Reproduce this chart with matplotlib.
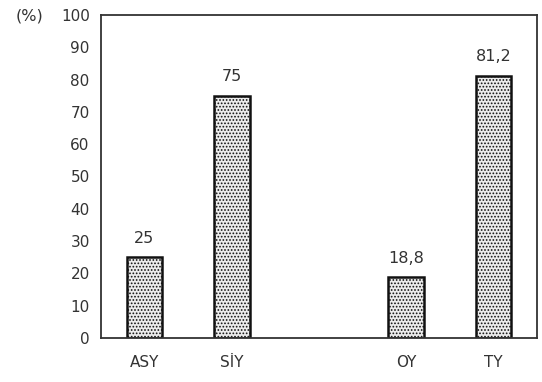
import matplotlib.pyplot as plt

# Data
categories = ['ASY', 'SİY', 'OY', 'TY']
positions = [0, 1, 3, 4]
values = [25, 75, 18.8, 81.2]
value_labels = ['25', '75', '18,8', '81,2']
yticks = [0, 10, 20, 30, 40, 50, 60, 70, 80, 90, 100]

plt.rcParams['hatch.color'] = '#9a9a9a'
plt.rcParams['hatch.linewidth'] = 0.8

fig = plt.figure(figsize=(5.42, 3.82), dpi=100)
ax = fig.add_axes([0.186, 0.115, 0.805, 0.846])

bars = ax.bar(positions, values, width=0.41, color='#ececec', edgecolor='#111111',
              linewidth=1.8, hatch='.....')

for x, v, lab in zip(positions, values, value_labels):
    ax.text(x, v + 3.5, lab, ha='center', va='bottom', fontsize=11.5, color='#333333')

ax.set_xlim(-0.5, 4.5)
ax.set_ylim(0, 100)
ax.set_yticks(yticks)
ax.set_xticks(positions)
ax.set_xticklabels(categories)
ax.tick_params(length=0, labelsize=11, colors='#333333', pad=8)
ax.tick_params(axis='x', pad=12)
for s in ax.spines.values():
    s.set_color('#333333')
    s.set_linewidth(1.3)

fig.text(0.028, 0.958, '(%)', fontsize=11.5, color='#333333', ha='left', va='center')

fig.savefig('out.png', dpi=100)
